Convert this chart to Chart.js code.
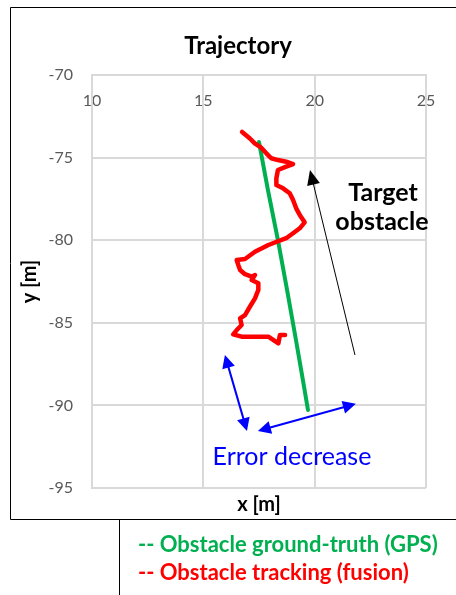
<!DOCTYPE html>
<html>
<head>
<meta charset="utf-8">
<script src="https://cdn.jsdelivr.net/npm/chart.js@4.4.1/dist/chart.umd.min.js"></script>
<style>
  html, body { margin: 0; padding: 0; background: #fff; }
</style>
</head>
<body>
<canvas id="chart" width="456" height="595"></canvas>
<script>
const xTicks = [10, 15, 20, 25];
const yTicks = [-70, -75, -80, -85, -90, -95];

// ground truth from GPS
const gpsX = [17.50, 17.90, 18.35, 18.76, 19.16, 19.47, 19.70];
const gpsY = [-74.06, -76.96, -79.99, -83.01, -86.04, -88.46, -90.28];

// tracked obstacle (fusion)
const fusionX = [16.74, 17.08, 17.31, 17.60, 17.83, 18.05, 18.35, 18.72, 19.03, 18.72,
  18.35, 18.28, 18.28, 18.58, 18.88, 19.03, 19.17, 19.33, 19.55, 19.33,
  19.03, 18.72, 17.92, 17.32, 16.87, 16.50, 16.57, 16.65, 16.87, 17.17,
  17.32, 17.17, 17.47, 17.47, 17.32, 17.09, 16.87, 16.65, 16.72, 16.50,
  16.34, 16.72, 17.92, 18.37, 18.44, 18.67];
const fusionY = [-73.45, -73.83, -74.14, -74.40, -74.74, -75.04, -75.15, -75.25, -75.39, -75.55,
  -75.75, -76.25, -76.66, -76.86, -77.16, -77.57, -78.07, -78.47, -78.92, -79.28,
  -79.58, -79.88, -80.29, -80.70, -81.14, -81.20, -81.50, -81.80, -82.06, -82.21,
  -82.11, -82.41, -82.61, -83.01, -83.52, -84.03, -84.53, -84.73, -85.13, -85.44,
  -85.70, -85.84, -85.84, -86.24, -85.74, -85.74];

const FONT = 'Lato, "Open Sans", sans-serif';

function arrowHead(ctx, fx, fy, tx, ty, len, half) {
  const a = Math.atan2(ty - fy, tx - fx);
  const bx = tx - len * Math.cos(a), by = ty - len * Math.sin(a);
  ctx.beginPath();
  ctx.moveTo(tx, ty);
  ctx.lineTo(bx + half * Math.sin(a), by - half * Math.cos(a));
  ctx.lineTo(bx - half * Math.sin(a), by + half * Math.cos(a));
  ctx.closePath();
  ctx.fill();
}

// frame, title, arrows and free text (arrows/notes placed in data units)
const decor = {
  id: 'decor',
  beforeDraw(chart) {
    const ctx = chart.ctx;
    ctx.save();
    ctx.strokeStyle = '#000';
    ctx.lineWidth = 1;
    ctx.beginPath();
    ctx.moveTo(470, 7.5); ctx.lineTo(10.5, 7.5); ctx.lineTo(10.5, 519.5); ctx.lineTo(470, 519.5);
    ctx.moveTo(119.5, 519.5); ctx.lineTo(119.5, 600);
    ctx.stroke();

    ctx.fillStyle = '#000';
    ctx.textAlign = 'center';
    ctx.textBaseline = 'middle';
    ctx.font = 'bold 24px ' + FONT;
    ctx.fillText('Trajectory', 238, 46);
    ctx.restore();
  },
  afterDraw(chart) {
    const {ctx, chartArea, scales: {x, y}} = chart;
    const px = v => x.getPixelForValue(v), py = v => y.getPixelForValue(v);
    ctx.save();

    // black arrow
    let fx = px(21.81), fy = py(-86.95), tx = px(19.79), ty = py(-75.75);
    let a = Math.atan2(ty - fy, tx - fx);
    ctx.strokeStyle = '#000'; ctx.fillStyle = '#000'; ctx.lineWidth = 1;
    ctx.beginPath(); ctx.moveTo(fx, fy); ctx.lineTo(tx - 12 * Math.cos(a), ty - 12 * Math.sin(a)); ctx.stroke();
    arrowHead(ctx, fx, fy, tx, ty, 15, 6.5);

    // blue double arrows
    ctx.strokeStyle = '#0000FF'; ctx.fillStyle = '#0000FF'; ctx.lineWidth = 2;
    [[15.97, -86.95, 16.96, -91.55], [17.45, -91.55, 21.85, -89.9]].forEach(([x1, y1, x2, y2]) => {
      const ax = px(x1), ay = py(y1), bx = px(x2), by = py(y2);
      const t = Math.atan2(by - ay, bx - ax);
      ctx.beginPath();
      ctx.moveTo(ax + 10 * Math.cos(t), ay + 10 * Math.sin(t));
      ctx.lineTo(bx - 10 * Math.cos(t), by - 10 * Math.sin(t));
      ctx.stroke();
      arrowHead(ctx, ax, ay, bx, by, 13, 6.5);
      arrowHead(ctx, bx, by, ax, ay, 13, 6.5);
    });

    ctx.textAlign = 'center';
    ctx.textBaseline = 'middle';
    ctx.fillStyle = '#000';
    ctx.font = 'bold 25px ' + FONT;
    ctx.fillText('Target', px(23.07), py(-77.14));
    ctx.fillText('obstacle', px(23.02), py(-78.9));

    ctx.fillStyle = '#0000FF';
    ctx.font = '25px ' + FONT;
    ctx.fillText('Error decrease', px(18.98), py(-93.12));

    ctx.fillStyle = '#000';
    ctx.font = 'bold 20px ' + FONT;
    ctx.fillText('x [m]', (chartArea.left + chartArea.right) / 2, chartArea.bottom + 17);

    ctx.textAlign = 'left';
    ctx.font = 'bold 22px ' + FONT;
    ctx.fillStyle = '#00B050';
    ctx.fillText('-- Obstacle ground-truth (GPS)', 138, 545);
    ctx.fillStyle = '#FF0000';
    ctx.fillText('-- Obstacle tracking (fusion)', 138, 573);
    ctx.restore();
  }
};

const toPoints = (xs, ys) => xs.map((v, i) => ({x: v, y: ys[i]}));

new Chart(document.getElementById('chart'), {
  type: 'scatter',
  data: {
    datasets: [
      {
        label: 'Obstacle tracking (fusion)',
        data: toPoints(fusionX, fusionY),
        showLine: true,
        borderColor: '#FF0000',
        borderWidth: 4.5,
        borderJoinStyle: 'round',
        borderCapStyle: 'round',
        pointRadius: 0,
        order: 0
      },
      {
        label: 'Obstacle ground-truth (GPS)',
        data: toPoints(gpsX, gpsY),
        showLine: true,
        borderColor: '#00B050',
        borderWidth: 4,
        borderCapStyle: 'round',
        pointRadius: 0,
        order: 1
      }
    ]
  },
  options: {
    responsive: false,
    animation: false,
    devicePixelRatio: 1,
    layout: { padding: { left: 10, right: 30, top: 75, bottom: 107 } },
    plugins: {
      legend: { display: false },
      tooltip: { enabled: false },
      title: { display: false }
    },
    scales: {
      x: {
        type: 'linear',
        position: { y: -70 },
        min: 10,
        max: 25,
        afterBuildTicks: s => { s.ticks = xTicks.map(v => ({value: v})); },
        grid: { color: '#D9D9D9', lineWidth: 2, drawTicks: false },
        border: { color: '#D9D9D9', width: 2 },
        ticks: { color: '#595959', font: { family: FONT, size: 16 }, padding: 16 }
      },
      y: {
        type: 'linear',
        min: -95,
        max: -70,
        afterBuildTicks: s => { s.ticks = yTicks.map(v => ({value: v})); },
        afterFit: s => { s.width = 82; },
        grid: { color: '#D9D9D9', lineWidth: 2, drawTicks: false },
        border: { color: '#D9D9D9', width: 2 },
        ticks: { color: '#595959', font: { family: FONT, size: 16 }, padding: 19 },
        title: {
          display: true,
          text: 'y [m]',
          color: '#000',
          font: { family: FONT, size: 20, weight: 'bold' },
          padding: { top: 8 }
        }
      }
    }
  },
  plugins: [decor]
});
</script>
</body>
</html>
